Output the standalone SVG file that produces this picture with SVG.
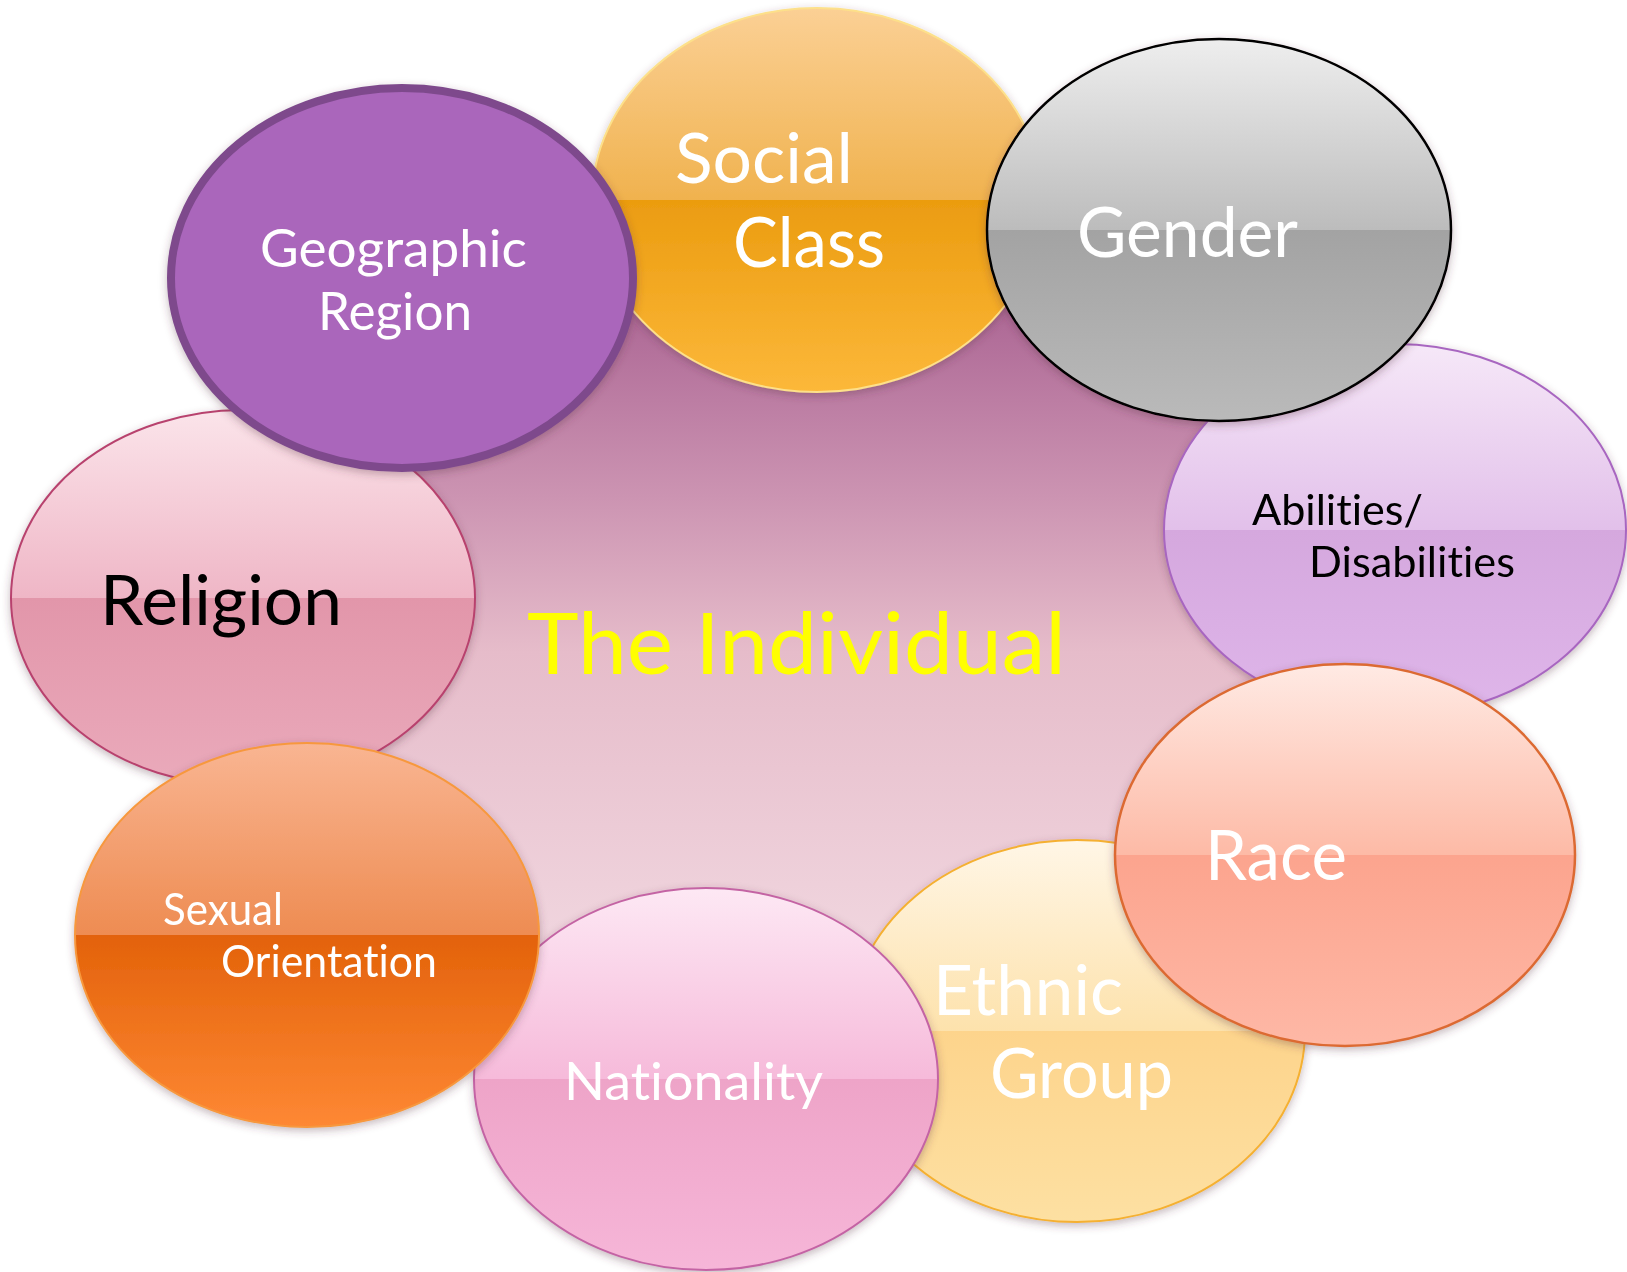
<svg xmlns="http://www.w3.org/2000/svg" width="1627" height="1272" viewBox="0 0 1627 1272">
  <defs>
    <style>
      .lbl { font-family: Lato, "Open Sans", "Liberation Sans", sans-serif; font-variant-ligatures: none; font-feature-settings: "liga" 0, "clig" 0; }
      .w { fill: #ffffff; }
      .k { fill: #000000; }
      .node { filter: url(#shadow); }
    </style>
    <filter id="shadow" x="-10%" y="-10%" width="120%" height="125%">
      <feDropShadow dx="0" dy="3" stdDeviation="4" flood-color="#5a3040" flood-opacity="0.35"/>
    </filter>
    <linearGradient id="gBg" gradientUnits="userSpaceOnUse" x1="0" y1="190" x2="0" y2="1000">
      <stop offset="0" stop-color="#a45a8c"/>
      <stop offset="0.17" stop-color="#b06c98"/>
      <stop offset="0.38" stop-color="#cc94b2"/>
      <stop offset="0.57" stop-color="#e6bcca"/>
      <stop offset="1" stop-color="#f2dae2"/>
    </linearGradient>
    <linearGradient id="gSocial" x1="0" y1="0" x2="0" y2="1">
      <stop offset="0" stop-color="#fbd095"/>
      <stop offset="0.5" stop-color="#f0b24e"/>
      <stop offset="0.5" stop-color="#eb9c10"/>
      <stop offset="1" stop-color="#fcb83a"/>
    </linearGradient>
    <linearGradient id="gGender" x1="0" y1="0" x2="0" y2="1">
      <stop offset="0" stop-color="#eeeeee"/>
      <stop offset="0.5" stop-color="#bcbcbc"/>
      <stop offset="0.5" stop-color="#a3a3a3"/>
      <stop offset="1" stop-color="#bababa"/>
    </linearGradient>
    <linearGradient id="gAbil" x1="0" y1="0" x2="0" y2="1">
      <stop offset="0" stop-color="#f6e8f8"/>
      <stop offset="0.5" stop-color="#e2c0ea"/>
      <stop offset="0.5" stop-color="#d5a8de"/>
      <stop offset="1" stop-color="#dfb6ea"/>
    </linearGradient>
    <linearGradient id="gRelig" x1="0" y1="0" x2="0" y2="1">
      <stop offset="0" stop-color="#fbe4ea"/>
      <stop offset="0.5" stop-color="#efb6c6"/>
      <stop offset="0.5" stop-color="#e296aa"/>
      <stop offset="1" stop-color="#eaaabb"/>
    </linearGradient>
    <linearGradient id="gSex" x1="0" y1="0" x2="0" y2="1">
      <stop offset="0" stop-color="#f9b592"/>
      <stop offset="0.5" stop-color="#ee8c52"/>
      <stop offset="0.5" stop-color="#e3620a"/>
      <stop offset="1" stop-color="#fe8834"/>
    </linearGradient>
    <linearGradient id="gNat" x1="0" y1="0" x2="0" y2="1">
      <stop offset="0" stop-color="#fde8f4"/>
      <stop offset="0.5" stop-color="#f6bada"/>
      <stop offset="0.5" stop-color="#eea4c8"/>
      <stop offset="1" stop-color="#f6b6d8"/>
    </linearGradient>
    <linearGradient id="gEth" x1="0" y1="0" x2="0" y2="1">
      <stop offset="0" stop-color="#fff6e6"/>
      <stop offset="0.5" stop-color="#fde2ac"/>
      <stop offset="0.5" stop-color="#fdd48c"/>
      <stop offset="1" stop-color="#fde0a2"/>
    </linearGradient>
    <linearGradient id="gRace" x1="0" y1="0" x2="0" y2="1">
      <stop offset="0" stop-color="#ffeae4"/>
      <stop offset="0.5" stop-color="#fdbaa6"/>
      <stop offset="0.5" stop-color="#fca48e"/>
      <stop offset="1" stop-color="#feb8a6"/>
    </linearGradient>
  </defs>

  <rect width="1627" height="1272" fill="#ffffff"/>

  <!-- central field: polygon through the overlaps of neighbouring ovals, so it fills every gap inside the ring -->
  <g id="individual">
    <polygon points="610,239 1018,215 1307,380 1370,692 1211,943 891,1055 506,1007 275,766 322,438" fill="url(#gBg)"/>
    <text class="lbl" x="527" y="674" font-size="86" fill="#ffff00" textLength="539" lengthAdjust="spacingAndGlyphs">The Individual</text>
  </g>

  <!-- surrounding ring, back to front -->
  <g id="social-class" class="node">
    <ellipse cx="817" cy="200" rx="225" ry="192" fill="url(#gSocial)" stroke="#fde08a" stroke-width="2"/>
    <text class="lbl w" x="675" y="183" font-size="70" textLength="178" lengthAdjust="spacingAndGlyphs">Social</text>
    <text class="lbl w" x="733" y="267" font-size="70" textLength="152" lengthAdjust="spacingAndGlyphs">Class</text>
  </g>

  <g id="abilities" class="node">
    <ellipse cx="1395" cy="530" rx="231" ry="186" fill="url(#gAbil)" stroke="#a866c0" stroke-width="2"/>
    <text class="lbl k" x="1252" y="525" font-size="42" textLength="171" lengthAdjust="spacingAndGlyphs">Abilities/</text>
    <text class="lbl k" x="1309" y="577" font-size="42" textLength="206" lengthAdjust="spacingAndGlyphs">Disabilities</text>
  </g>

  <g id="religion" class="node">
    <ellipse cx="243" cy="598" rx="232" ry="188" fill="url(#gRelig)" stroke="#b8426e" stroke-width="2"/>
    <text class="lbl k" x="100" y="625" font-size="70" textLength="242" lengthAdjust="spacingAndGlyphs">Religion</text>
  </g>

  <g id="ethnic-group" class="node">
    <ellipse cx="1077" cy="1031" rx="228" ry="191" fill="url(#gEth)" stroke="#f5b030" stroke-width="2"/>
    <text class="lbl w" x="933" y="1015" font-size="70" textLength="190" lengthAdjust="spacingAndGlyphs">Ethnic</text>
    <text class="lbl w" x="990" y="1098" font-size="70" textLength="183" lengthAdjust="spacingAndGlyphs">Group</text>
  </g>

  <g id="nationality" class="node">
    <ellipse cx="706" cy="1079" rx="232" ry="191" fill="url(#gNat)" stroke="#c464a4" stroke-width="2"/>
    <text class="lbl w" x="564" y="1100" font-size="52" textLength="259" lengthAdjust="spacingAndGlyphs">Nationality</text>
  </g>

  <g id="sexual-orientation" class="node">
    <ellipse cx="307" cy="935" rx="232" ry="192" fill="url(#gSex)" stroke="#f7983e" stroke-width="2"/>
    <text class="lbl w" x="163" y="925" font-size="44" textLength="120" lengthAdjust="spacingAndGlyphs">Sexual</text>
    <text class="lbl w" x="221" y="977" font-size="44" textLength="216" lengthAdjust="spacingAndGlyphs">Orientation</text>
  </g>

  <g id="race" class="node">
    <ellipse cx="1345" cy="855" rx="230" ry="191" fill="url(#gRace)" stroke="#dc6a32" stroke-width="2.5"/>
    <text class="lbl w" x="1205" y="880" font-size="70" textLength="142" lengthAdjust="spacingAndGlyphs">Race</text>
  </g>

  <g id="gender" class="node">
    <ellipse cx="1219" cy="230" rx="232" ry="191" fill="url(#gGender)" stroke="#000000" stroke-width="2.5"/>
    <text class="lbl w" x="1077" y="257" font-size="70" textLength="221" lengthAdjust="spacingAndGlyphs">Gender</text>
  </g>

  <g id="geographic-region" class="node">
    <ellipse cx="402" cy="278" rx="231" ry="190" fill="#aa66bb" stroke="#7e4a8c" stroke-width="8"/>
    <text class="lbl w" x="260" y="267" font-size="53" textLength="267" lengthAdjust="spacingAndGlyphs">Geographic</text>
    <text class="lbl w" x="318" y="330" font-size="53" textLength="154" lengthAdjust="spacingAndGlyphs">Region</text>
  </g>

  <!-- no connectors in this figure -->
  <g id="connectors"/>
</svg>
